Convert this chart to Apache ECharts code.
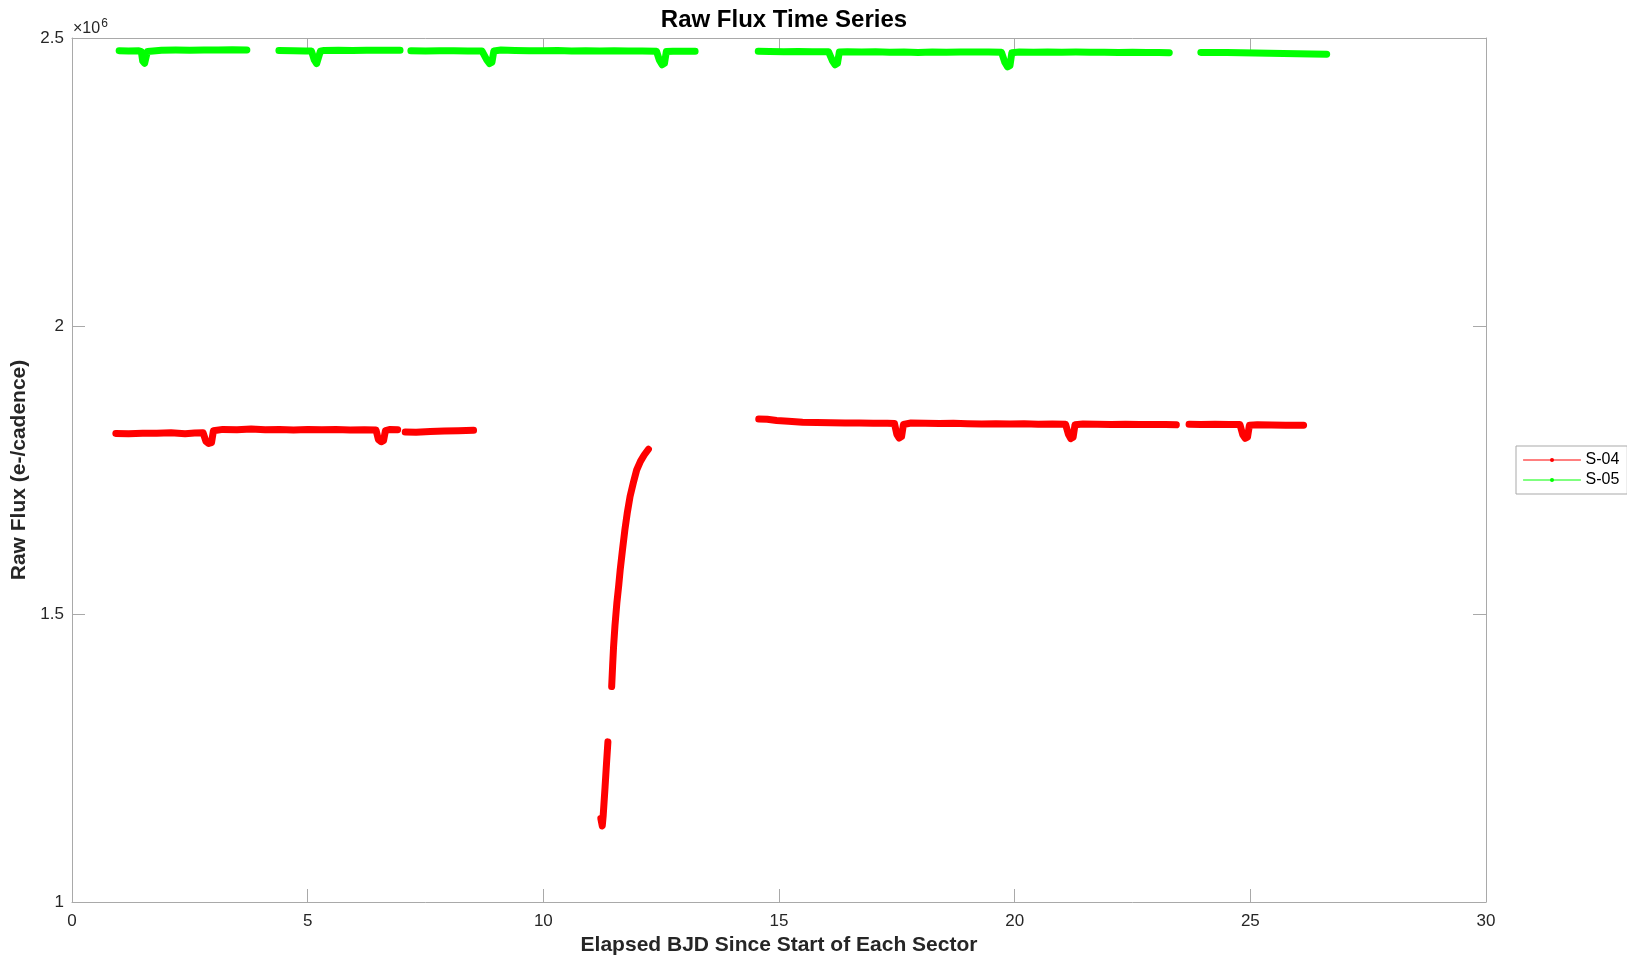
<!DOCTYPE html>
<html>
<head>
<meta charset="utf-8">
<script src="https://cdn.jsdelivr.net/npm/echarts@6/dist/echarts.min.js"></script>
<style>
html,body{margin:0;padding:0;background:#fff;}
#chart{width:1627px;height:956px;}
</style>
</head>
<body>
<div id="chart"></div>
<script>
// ---- Data ----
// null marks a gap between observation segments
const s04Time = [
  0.93,1.20,1.50,1.80,2.10,2.40,2.60,2.78,2.84,2.90,2.96,3.00,3.20,3.50,3.80,4.10,4.40,4.70,5.00,5.30,5.60,5.90,6.20,6.45,6.50,6.56,6.61,6.65,6.75,6.91,
  null,
  7.07,7.30,7.60,7.90,8.20,8.52,
  null,
  11.22,11.25,11.27,11.31,11.34,11.37,
  null,
  11.45,11.47,11.49,11.52,11.56,11.60,11.63,11.68,11.73,11.78,11.84,11.91,11.98,12.06,12.14,12.23,
  null,
  14.57,14.75,14.95,15.20,15.50,15.80,16.10,16.40,16.70,17.00,17.30,17.45,17.50,17.55,17.60,17.64,17.80,18.10,18.40,18.70,19.00,19.30,19.60,19.90,20.20,20.50,20.80,21.08,21.14,21.19,21.24,21.28,21.45,21.75,22.05,22.35,22.65,22.95,23.20,23.43,
  null,
  23.70,23.95,24.25,24.55,24.78,24.84,24.89,24.94,24.98,25.15,25.45,25.75,26.13
];
const s04Flux = [
  1813500,1812800,1813600,1814000,1814500,1813000,1814200,1814800,1800000,1796000,1797500,1818000,1820500,1820000,1821000,1819800,1820400,1819500,1820300,1819800,1820200,1819600,1820000,1819500,1803000,1799000,1801000,1818500,1820500,1820000,
  null,
  1816000,1815500,1816800,1817600,1818200,1818800,
  null,
  1145000,1132000,1150000,1200000,1240000,1278000,
  null,
  1374000,1410000,1443000,1480000,1519000,1550000,1576000,1612000,1646000,1675000,1704000,1728000,1750000,1765000,1776000,1786000,
  null,
  1838500,1838000,1836000,1834500,1833000,1832500,1832000,1831800,1831500,1831200,1831000,1830800,1812000,1805500,1808000,1829000,1831500,1831000,1830600,1831200,1830500,1830000,1830300,1829800,1830200,1829600,1829900,1829500,1812000,1804500,1807000,1828500,1830000,1829500,1829200,1829600,1829000,1828800,1829100,1828400,
  null,
  1829500,1829200,1829600,1829000,1828800,1811000,1805000,1807000,1827500,1828600,1828200,1827800,1827600
];
const s05Time = [
  1.00,1.20,1.42,1.47,1.50,1.54,1.57,1.60,1.64,1.90,2.20,2.50,2.80,3.10,3.40,3.71,
  null,
  4.39,4.70,4.95,5.08,5.14,5.19,5.23,5.27,5.35,5.65,5.95,6.25,6.55,6.96,
  null,
  7.19,7.50,7.80,8.10,8.40,8.70,8.80,8.86,8.91,8.95,9.10,9.40,9.70,10.00,10.30,10.60,10.90,11.20,11.50,11.80,12.10,12.40,12.46,12.52,12.57,12.61,12.75,13.00,13.22,
  null,
  14.56,14.80,15.10,15.40,15.70,16.05,16.13,16.19,16.24,16.28,16.45,16.75,17.05,17.35,17.65,17.95,18.25,18.55,18.85,19.15,19.45,19.72,19.79,19.85,19.90,19.94,20.10,20.40,20.70,21.00,21.30,21.60,21.90,22.20,22.50,22.80,23.05,23.28,
  null,
  23.95,24.20,24.50,24.80,25.10,25.40,25.70,26.00,26.30,26.62
];
const s05Flux = [
  2478000,2477500,2477800,2476500,2460000,2456000,2459000,2476500,2478300,2478800,2479000,2478700,2479200,2479000,2479400,2479100,
  null,
  2478200,2478000,2477600,2477400,2462000,2455500,2458000,2477000,2478500,2478800,2478400,2478900,2478600,2478800,
  null,
  2477800,2477500,2478000,2477700,2477600,2477400,2462000,2455500,2458000,2477500,2479000,2478400,2478000,2477800,2478100,2477600,2477900,2477400,2477700,2477300,2477600,2477200,2462000,2453500,2456000,2476500,2477200,2476800,2477000,
  null,
  2477000,2476700,2476300,2476500,2476000,2476300,2461000,2453500,2456000,2475500,2476200,2475800,2476000,2475300,2475600,2475000,2475600,2475400,2475800,2475500,2475900,2475300,2458000,2450000,2452000,2474500,2475600,2475300,2475700,2475400,2475500,2475100,2475300,2475000,2475200,2474700,2474900,2474600,
  null,
  2475000,2474800,2474700,2474200,2474000,2473600,2473300,2472800,2472200,2471800
];
const seriesNames = ['S-04', 'S-05'];
const seriesColors = ['#ff0000', '#00ff00'];
const xTicks = {min: 0, max: 30, step: 5};
const yTicks = {min: 1000000, max: 2500000, step: 500000};

function toPairs(t, f) {
  return t.map((v, i) => (v === null || f[i] === null) ? ['-', '-'] : [v, f[i]]);
}

const FONT = '"Liberation Sans", Arial, Helvetica, sans-serif';
const AX = '#a9a9a9';
const LBL = '#262626';

const chart = echarts.init(document.getElementById('chart'), null, {renderer: 'canvas'});

const baseX = {
  type: 'value', min: xTicks.min, max: xTicks.max, interval: xTicks.step,
  splitLine: {show: false},
  axisLine: {show: true, onZero: false, lineStyle: {color: AX, width: 1}},
  axisTick: {show: true, inside: true, length: 13, lineStyle: {color: AX}}
};
const baseY = {
  type: 'value', min: yTicks.min, max: yTicks.max, interval: yTicks.step,
  splitLine: {show: false},
  axisLine: {show: true, onZero: false, lineStyle: {color: AX, width: 1}},
  axisTick: {show: true, inside: true, length: 13, lineStyle: {color: AX}}
};

const option = {
  animation: false,
  backgroundColor: '#ffffff',
  textStyle: {fontFamily: FONT},
  title: {
    text: 'Raw Flux Time Series',
    left: 779, top: 3, textAlign: 'center',
    textStyle: {fontFamily: FONT, fontSize: 24, fontWeight: 'bold', color: '#000'}
  },
  grid: {left: 72, right: 141, top: 38, bottom: 54, containLabel: false, outerBoundsMode: 'none'},
  legend: {
    orient: 'vertical',
    left: 1516, top: 446,
    padding: [6, 8, 6, 7],
    itemGap: 4,
    itemWidth: 57, itemHeight: 5,
    borderColor: '#a9a9a9', borderWidth: 1,
    backgroundColor: '#fff',
    lineStyle: {width: 1},
    textStyle: {fontFamily: FONT, fontSize: 16, color: '#000', lineHeight: 16},
    data: seriesNames
  },
  graphic: [{
    type: 'text', left: 73, top: 18,
    style: {
      text: '{a|×10}{b|6}',
      rich: {
        a: {fontFamily: FONT, fontSize: 16, fill: LBL, verticalAlign: 'bottom', lineHeight: 19},
        b: {fontFamily: FONT, fontSize: 12, fill: LBL, verticalAlign: 'top', lineHeight: 19, padding: [0,0,8,1]}
      }
    }
  }],
  xAxis: [
    Object.assign({}, baseX, {
      position: 'bottom',
      name: 'Elapsed BJD Since Start of Each Sector',
      nameLocation: 'middle', nameGap: 24,
      nameTextStyle: {fontFamily: FONT, fontSize: 21, fontWeight: 'bold', color: '#262626'},
      axisLabel: {show: true, margin: 11, fontFamily: FONT, fontSize: 17, color: LBL}
    }),
    Object.assign({}, baseX, {position: 'top', axisLabel: {show: false}})
  ],
  yAxis: [
    Object.assign({}, baseY, {
      position: 'left',
      name: 'Raw Flux (e-/cadence)',
      nameLocation: 'middle', nameGap: 36, nameRotate: 90,
      nameTextStyle: {fontFamily: FONT, fontSize: 21, fontWeight: 'bold', color: '#262626'},
      axisLabel: {show: true, margin: 8, fontFamily: FONT, fontSize: 17, color: LBL,
        formatter: v => String(v / 1000000)}
    }),
    Object.assign({}, baseY, {position: 'right', axisLabel: {show: false}})
  ],
  series: [
    {
      name: seriesNames[0], type: 'line', xAxisIndex: 0, yAxisIndex: 0,
      data: toPairs(s04Time, s04Flux),
      symbol: 'circle', symbolSize: 4, showSymbol: false, connectNulls: false,
      itemStyle: {color: seriesColors[0]},
      lineStyle: {color: seriesColors[0], width: 7, cap: 'round', join: 'round'},
      emphasis: {disabled: true}
    },
    {
      name: seriesNames[1], type: 'line', xAxisIndex: 0, yAxisIndex: 0,
      data: toPairs(s05Time, s05Flux),
      symbol: 'circle', symbolSize: 4, showSymbol: false, connectNulls: false,
      itemStyle: {color: seriesColors[1]},
      lineStyle: {color: seriesColors[1], width: 7, cap: 'round', join: 'round'},
      emphasis: {disabled: true}
    }
  ]
};
chart.setOption(option);
</script>
</body>
</html>
